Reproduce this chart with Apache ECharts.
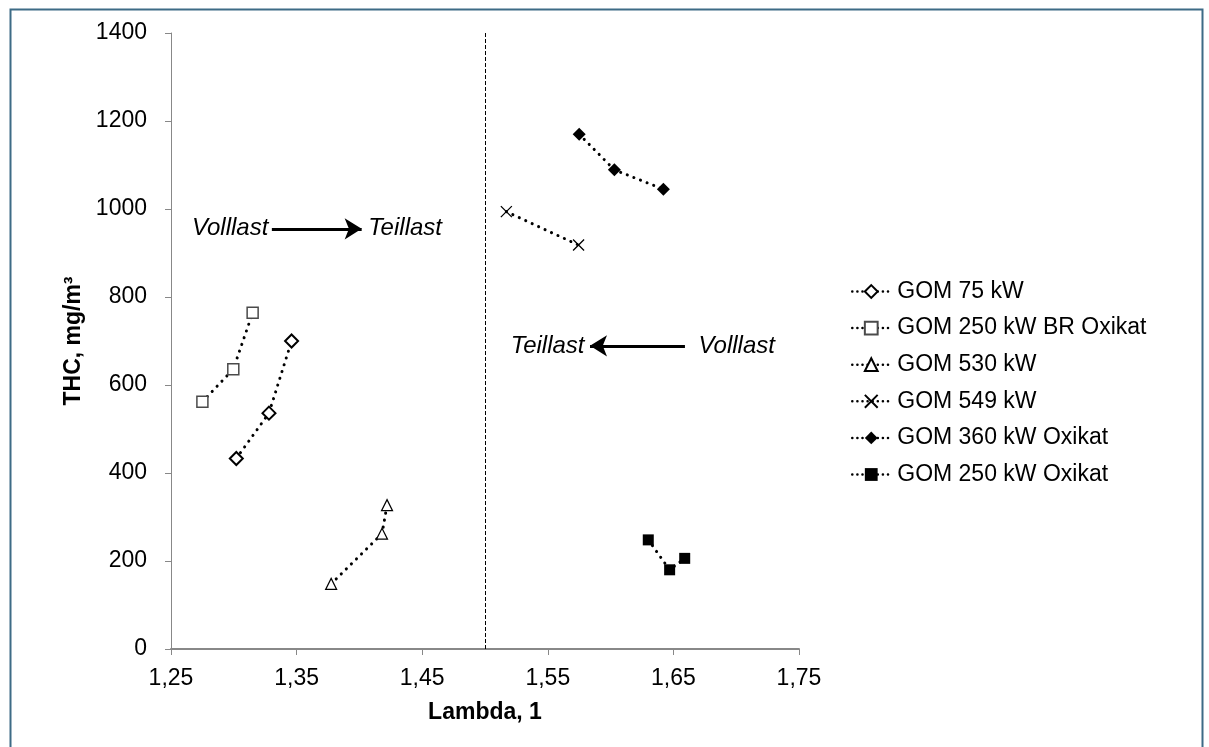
<!DOCTYPE html>
<html>
<head>
<meta charset="utf-8">
<title>THC über Lambda</title>
<script src="https://cdn.jsdelivr.net/npm/echarts@6/dist/echarts.min.js"></script>
<style>
  html, body { margin: 0; padding: 0; background: #fff; }
  #chart { width: 1209px; height: 747px; }
</style>
</head>
<body>
<div id="chart"></div>
<script>
// Messwerte [Lambda, THC]
const gom75 = [[1.302, 433], [1.328, 536], [1.346, 700]];
const gom250br = [[1.275, 562], [1.2996, 636], [1.315, 764]];
const gom530 = [[1.3775, 148], [1.418, 262], [1.422, 327]];
const gom549 = [[1.517, 994], [1.5745, 918]];
const gom360 = [[1.575, 1170], [1.603, 1089], [1.642, 1045]];
const gom250 = [[1.630, 248], [1.647, 180], [1.659, 206]];

const seriesNames = ['GOM 75 kW', 'GOM 250 kW BR Oxikat', 'GOM 530 kW', 'GOM 549 kW', 'GOM 360 kW Oxikat', 'GOM 250 kW Oxikat'];

// Grenze Volllast/Teillast und Pfeile (Lambda, THC)
const lambdaBorder = 1.5;
const arrowRight = [[1.3303, 955], [1.4018, 955]];
const arrowLeft = [[1.6592, 689], [1.5836, 689]];

const font = 'Liberation Sans, Arial, sans-serif';
const dotted = { color: '#000', width: 3, type: [0.1, 7], cap: 'round' };
const crossPath = 'path://M0,0L10,10M10,0L0,10';

let chart = echarts.init(document.getElementById('chart'));

let makeSeries = (name, data, symbol, size, itemStyle) => {
  return {
    name: name,
    type: 'line',
    data: data,
    symbol: symbol,
    symbolSize: size,
    showAllSymbol: true,
    lineStyle: dotted,
    itemStyle: itemStyle,
    emphasis: { disabled: true },
    z: 3
  };
};

let series = [
  makeSeries(seriesNames[0], gom75, 'diamond', 13, { color: '#fff', borderColor: '#000', borderWidth: 2 }),
  makeSeries(seriesNames[1], gom250br, 'rect', 11, { color: '#fff', borderColor: '#4a4a4a', borderWidth: 1.5 }),
  makeSeries(seriesNames[2], gom530, 'triangle', 11, { color: '#fff', borderColor: '#000', borderWidth: 1.2 }),
  makeSeries(seriesNames[3], gom549, crossPath, 11, { color: 'none', borderColor: '#000', borderWidth: 1.3 }),
  makeSeries(seriesNames[4], gom360, 'diamond', 13, { color: '#000', borderColor: '#000', borderWidth: 0 }),
  makeSeries(seriesNames[5], gom250, 'rect', 11, { color: '#000', borderColor: '#000', borderWidth: 0 })
];

// Hilfsserie für Trennlinie, Pfeile und Beschriftung
series.push({
  name: 'annotations',
  type: 'line',
  data: [],
  silent: true,
  markLine: {
    silent: true,
    animation: false,
    label: { show: false },
    emphasis: { disabled: true },
    data: [
      [
        { coord: [lambdaBorder, 0], symbol: 'none', lineStyle: { color: '#000', width: 1, type: [4, 2] } },
        { coord: [lambdaBorder, 1400], symbol: 'none' }
      ],
      [
        { coord: arrowRight[0], symbol: 'none', lineStyle: { color: '#000', width: 3, type: 'solid' } },
        { coord: arrowRight[1], symbol: 'arrow', symbolSize: [16, 17] }
      ],
      [
        { coord: arrowLeft[0], symbol: 'none', lineStyle: { color: '#000', width: 3, type: 'solid' } },
        { coord: arrowLeft[1], symbol: 'arrow', symbolSize: [16, 17] }
      ]
    ]
  },
  markPoint: {
    silent: true,
    animation: false,
    symbol: 'circle',
    symbolSize: 1,
    itemStyle: { color: 'rgba(0,0,0,0)' },
    label: {
      show: true,
      formatter: '{b}',
      color: '#000',
      fontFamily: font,
      fontStyle: 'italic',
      fontSize: 24,
      distance: 3
    },
    data: [
      { name: 'Volllast', coord: arrowRight[0], label: { position: 'left' } },
      { name: 'Teillast', coord: arrowRight[1], label: { position: 'right', distance: 6 } },
      { name: 'Volllast', coord: arrowLeft[0], label: { position: 'right', distance: 13 } },
      { name: 'Teillast', coord: arrowLeft[1], label: { position: 'left', distance: 5 } }
    ]
  }
});

let chartOption = {
  backgroundColor: '#fff',
  animation: false,
  textStyle: { fontFamily: font },
  graphic: [{
    type: 'rect',
    left: 8,
    top: 7,
    shape: { width: 1192, height: 760 },
    style: { fill: 'none', stroke: '#3d6b86', lineWidth: 2 },
    silent: true
  }],
  grid: { left: 171, right: 410, top: 33, bottom: 98 },
  legend: {
    data: seriesNames,
    orient: 'vertical',
    left: 846,
    top: 275,
    itemWidth: 38,
    itemHeight: 16,
    itemGap: 13.6,
    selectedMode: false,
    lineStyle: { type: [0.1, 5], width: 2.5, cap: 'round' },
    textStyle: { color: '#000', fontSize: 23, lineHeight: 23, fontFamily: font, padding: [0, 0, 0, 2] }
  },
  xAxis: {
    type: 'value',
    min: 1.25,
    max: 1.75,
    interval: 0.1,
    name: 'Lambda, 1',
    nameLocation: 'middle',
    nameGap: 52,
    nameTextStyle: { color: '#000', fontSize: 23, fontWeight: 'bold', fontFamily: font },
    axisLine: { lineStyle: { color: '#888', width: 2 } },
    axisTick: { show: true, inside: false, length: 6, lineStyle: { color: '#888' } },
    splitLine: { show: false },
    axisLabel: {
      color: '#000',
      fontSize: 23,
      margin: 18,
      formatter: v => v.toFixed(2).replace('.', ',')
    }
  },
  yAxis: {
    type: 'value',
    min: 0,
    max: 1400,
    interval: 200,
    name: 'THC, mg/m³',
    nameLocation: 'middle',
    nameGap: 58,
    nameRotate: 90,
    nameTextStyle: { color: '#000', fontSize: 23, fontWeight: 'bold', fontFamily: font },
    axisLine: { show: true, lineStyle: { color: '#888', width: 1 } },
    axisTick: { show: true, inside: false, length: 6, lineStyle: { color: '#888' } },
    splitLine: { show: false },
    axisLabel: { color: '#000', fontSize: 23, margin: 24, formatter: v => String(v) }
  },
  series: series
};

chart.setOption(chartOption);
</script>
</body>
</html>
